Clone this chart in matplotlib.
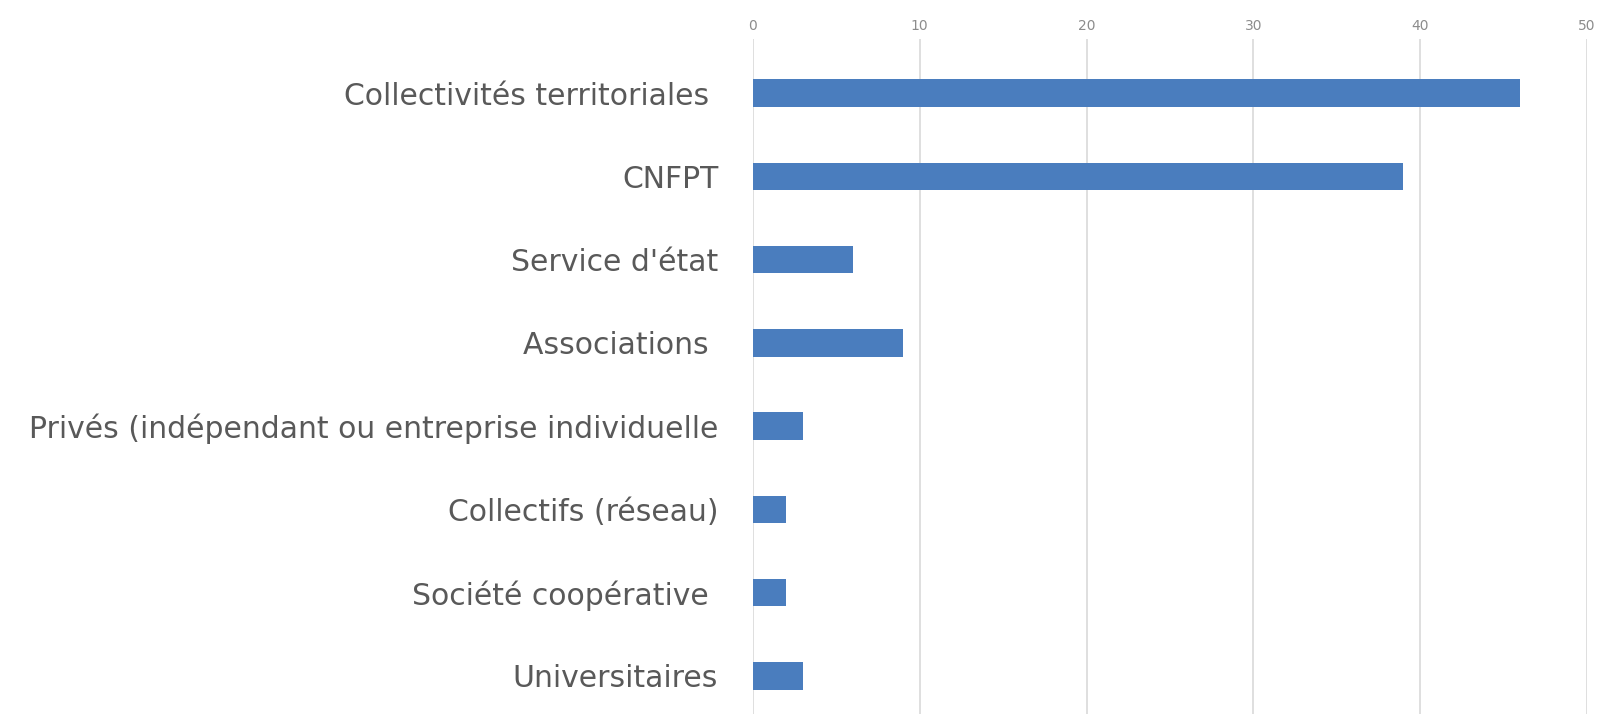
#!/usr/bin/env python3

import matplotlib
matplotlib.use('Agg')
import matplotlib.pyplot as plt

categories = ['Collectivités territoriales ', 'CNFPT', "Service d'état", 'Associations ',
              'Privés (indépendant ou entreprise individuelle', 'Collectifs (réseau)',
              'Société coopérative ', 'Universitaires']
values = [46, 39, 6, 9, 3, 2, 2, 3]
x_ticks = [0, 10, 20, 30, 40, 50]

bar_color = '#4a7dbe'
text_color = '#595959'

fig = plt.figure(figsize=(16.02, 7.14), dpi=100)
ax = fig.add_axes([0.470, 0.0, 0.5206, 0.9454])

y_pos = list(range(len(categories)))
ax.barh(y_pos, values, height=0.33, color=bar_color, zorder=3)

ax.set_xlim(0, 50)
ax.set_ylim(7.457, -0.649)
ax.set_xticks(x_ticks)
ax.xaxis.tick_top()
ax.tick_params(axis='x', length=0, pad=4, labelsize=10, labelcolor='#8c8c8c')
ax.set_yticks(y_pos, labels=categories)
ax.tick_params(axis='y', length=0, pad=25, labelsize=21.5, labelcolor=text_color)
for lab in ax.get_yticklabels():
    lab.set_family('DejaVu Sans')

ax.grid(axis='x', color='#d9d9d9', linewidth=1.2, zorder=0)
for s in ax.spines.values():
    s.set_visible(False)

plt.savefig('out.png', dpi=100)
plt.close()
